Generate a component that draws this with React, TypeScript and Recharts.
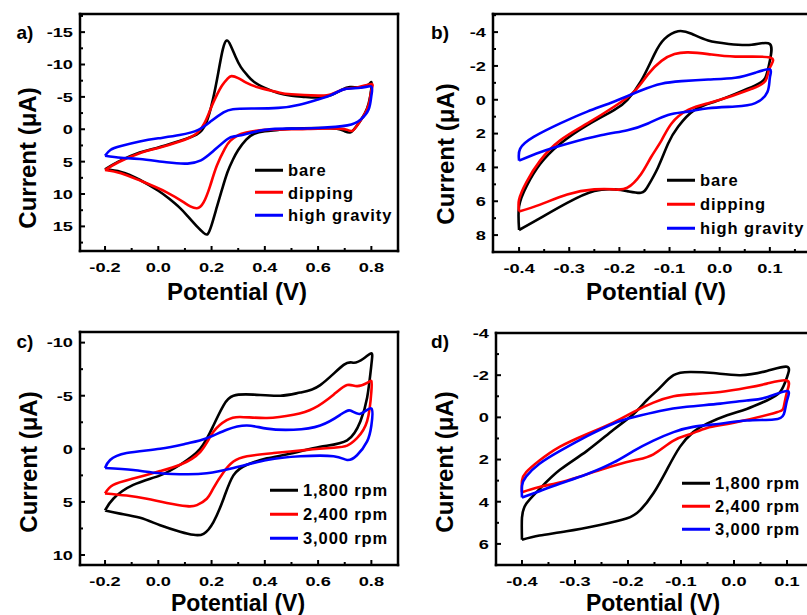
import React from 'react';
import { LineChart, Line, XAxis, YAxis } from 'recharts';

type Pt = [number, number];

// potential (V), current (µA): forward branch, then the return branch

// a) electrode preparation, wide window
const bareA: Pt[] = [
  [-0.2, 6.2], [-0.15, 5.0], [-0.07, 3.6], [0.0, 2.8], [0.08, 1.8], [0.145, 0.8], [0.18, -1.0], [0.205, -4.6],
  [0.225, -8.7], [0.242, -12.3], [0.257, -13.7], [0.272, -12.9], [0.29, -11.2], [0.31, -9.6], [0.335, -8.3],
  [0.36, -7.3], [0.4, -6.4], [0.45, -5.6], [0.5, -5.2], [0.55, -5.0], [0.6, -4.9], [0.65, -5.3], [0.69, -6.1],
  [0.72, -6.5], [0.76, -6.5], [0.79, -6.9], [0.8, -7.3],
  [0.8, -6.3], [0.79, -4.0], [0.775, -2.4], [0.755, -1.1], [0.735, 0.0], [0.72, 0.5], [0.7, 0.3], [0.67, -0.1],
  [0.6, -0.2], [0.5, -0.1], [0.45, 0.1], [0.4, 0.3], [0.36, 0.7], [0.33, 1.6], [0.3, 3.2], [0.28, 4.7],
  [0.26, 6.6], [0.24, 9.2], [0.22, 12.0], [0.2, 14.8], [0.185, 16.2], [0.17, 16.0], [0.145, 15.0], [0.11, 13.4],
  [0.08, 12.1], [0.04, 10.7], [0.0, 9.5], [-0.07, 7.8], [-0.14, 6.6], [-0.2, 6.2],
];
const dippingA: Pt[] = [
  [-0.2, 6.3], [-0.15, 5.1], [-0.07, 3.7], [0.0, 2.9], [0.08, 1.9], [0.145, 0.6], [0.18, -1.5], [0.2, -3.5],
  [0.22, -5.3], [0.24, -6.8], [0.26, -7.8], [0.275, -8.2], [0.3, -7.9], [0.33, -7.2], [0.38, -6.4], [0.45, -5.7],
  [0.5, -5.4], [0.6, -5.2], [0.65, -5.4], [0.7, -6.2], [0.75, -6.5], [0.8, -7.0],
  [0.8, -6.0], [0.79, -3.8], [0.77, -2.0], [0.75, -0.8], [0.73, 0.2], [0.71, 0.1], [0.68, -0.1], [0.6, -0.1],
  [0.5, 0.0], [0.4, 0.1], [0.33, 0.5], [0.3, 0.9], [0.27, 1.8], [0.25, 3.0], [0.22, 5.6], [0.195, 8.7],
  [0.17, 11.3], [0.145, 12.2], [0.12, 11.9], [0.1, 11.4], [0.03, 9.7], [-0.07, 7.9], [-0.14, 6.8], [-0.2, 6.3],
];
const gravityA: Pt[] = [
  [-0.2, 4.1], [-0.18, 3.2], [-0.14, 2.6], [-0.07, 1.9], [0.0, 1.4], [0.08, 0.9], [0.15, 0.1], [0.2, -1.3],
  [0.245, -2.6], [0.28, -3.1], [0.35, -3.2], [0.45, -3.3], [0.53, -3.8], [0.6, -4.6], [0.65, -5.3], [0.7, -6.2],
  [0.76, -6.4], [0.8, -6.6],
  [0.8, -5.2], [0.79, -3.1], [0.76, -1.5], [0.71, -0.6], [0.6, -0.2], [0.5, -0.1], [0.4, 0.1], [0.3, 1.0],
  [0.26, 1.5], [0.2, 3.6], [0.16, 4.8], [0.11, 5.3], [0.03, 5.1], [-0.07, 4.6], [-0.14, 4.4], [-0.2, 4.1],
];

// b) electrode preparation, narrow window
const bareB: Pt[] = [
  [-0.4, 7.7], [-0.4, 6.3], [-0.385, 5.1], [-0.358, 3.8], [-0.318, 2.6], [-0.264, 1.5], [-0.21, 0.6],
  [-0.184, 0.0], [-0.157, -1.1], [-0.13, -2.7], [-0.11, -3.6], [-0.083, -4.05], [-0.056, -3.9], [-0.023, -3.5],
  [0.018, -3.3], [0.064, -3.25], [0.1, -3.3],
  [0.1, -2.3], [0.091, -1.3], [0.071, -0.85], [0.031, -0.35], [-0.009, 0.1], [-0.05, 0.6], [-0.083, 1.6],
  [-0.103, 2.6], [-0.123, 4.0], [-0.143, 5.1], [-0.157, 5.5], [-0.184, 5.4], [-0.21, 5.3], [-0.25, 5.4],
  [-0.304, 6.1], [-0.358, 7.0], [-0.4, 7.7],
];
const dippingB: Pt[] = [
  [-0.4, 6.6], [-0.4, 5.9], [-0.385, 4.85], [-0.358, 3.6], [-0.318, 2.4], [-0.264, 1.4], [-0.21, 0.4],
  [-0.17, -0.5], [-0.143, -1.5], [-0.116, -2.3], [-0.09, -2.7], [-0.063, -2.8], [-0.023, -2.7], [0.031, -2.55],
  [0.1, -2.5],
  [0.1, -1.9], [0.091, -1.1], [0.064, -0.65], [0.018, -0.16], [-0.023, 0.2], [-0.063, 0.6], [-0.096, 1.4],
  [-0.116, 2.4], [-0.137, 3.4], [-0.157, 4.4], [-0.184, 5.2], [-0.21, 5.3], [-0.25, 5.3], [-0.304, 5.6],
  [-0.358, 6.2], [-0.4, 6.6],
];
const gravityB: Pt[] = [
  [-0.4, 3.6], [-0.398, 2.9], [-0.371, 2.2], [-0.318, 1.4], [-0.264, 0.7], [-0.21, 0.1], [-0.157, -0.55],
  [-0.116, -0.95], [-0.076, -1.1], [-0.023, -1.2], [0.031, -1.3], [0.071, -1.6], [0.1, -1.8],
  [0.1, -1.3], [0.095, -0.45], [0.071, 0.2], [0.031, 0.4], [-0.023, 0.5], [-0.063, 0.7], [-0.103, 0.9],
  [-0.143, 1.4], [-0.184, 1.8], [-0.237, 2.1], [-0.304, 2.6], [-0.358, 3.1], [-0.4, 3.6],
];

// c) rotation speed, wide window
const rpm1800C: Pt[] = [
  [-0.2, 5.8], [-0.169, 4.7], [-0.094, 3.4], [0.007, 2.5], [0.082, 1.5], [0.157, 0.0], [0.207, -2.2],
  [0.245, -4.1], [0.282, -5.0], [0.358, -5.1], [0.458, -5.0], [0.533, -5.3], [0.608, -6.0], [0.696, -7.9],
  [0.734, -8.1], [0.771, -8.5], [0.8, -9.0],
  [0.8, -7.9], [0.784, -4.8], [0.759, -2.6], [0.709, -0.8], [0.608, -0.2], [0.508, 0.4], [0.408, 0.9],
  [0.333, 1.5], [0.282, 2.5], [0.245, 4.7], [0.207, 6.9], [0.17, 8.0], [0.132, 8.1], [0.082, 7.8],
  [0.007, 7.2], [-0.068, 6.5], [-0.144, 6.1], [-0.2, 5.8],
];
const rpm2400C: Pt[] = [
  [-0.2, 4.2], [-0.169, 3.4], [-0.094, 2.8], [0.007, 2.1], [0.082, 1.5], [0.157, 0.3], [0.207, -1.6],
  [0.257, -2.7], [0.307, -3.0], [0.408, -2.9], [0.508, -3.2], [0.583, -3.8], [0.658, -5.1], [0.709, -6.0],
  [0.746, -5.9], [0.784, -6.2], [0.8, -6.4],
  [0.8, -5.4], [0.784, -2.6], [0.746, -1.0], [0.709, -0.3], [0.658, -0.1], [0.558, 0.1], [0.433, 0.4],
  [0.333, 0.7], [0.282, 1.2], [0.245, 2.2], [0.207, 3.7], [0.182, 4.7], [0.145, 5.3], [0.107, 5.4],
  [0.032, 5.1], [-0.043, 4.7], [-0.119, 4.4], [-0.2, 4.2],
];
const rpm3000C: Pt[] = [
  [-0.2, 1.8], [-0.181, 1.05], [-0.119, 0.4], [0.007, 0.0], [0.107, -0.5], [0.182, -1.0], [0.257, -1.8],
  [0.333, -2.2], [0.408, -1.9], [0.508, -1.8], [0.608, -2.2], [0.683, -3.2], [0.721, -3.6], [0.759, -3.3],
  [0.8, -3.8],
  [0.8, -2.2], [0.784, -0.7], [0.746, 0.6], [0.709, 1.05], [0.658, 0.7], [0.533, 0.7], [0.408, 1.05],
  [0.282, 1.8], [0.182, 2.3], [0.107, 2.4], [0.007, 2.3], [-0.094, 2.0], [-0.2, 1.8],
];

// d) rotation speed, narrow window
const rpm1800D: Pt[] = [
  [-0.4, 5.8], [-0.4, 4.75], [-0.392, 4.1], [-0.367, 3.4], [-0.329, 2.5], [-0.278, 1.6], [-0.228, 0.6],
  [-0.19, -0.15], [-0.165, -0.8], [-0.14, -1.4], [-0.114, -2.0], [-0.083, -2.15], [-0.039, -2.1], [0.012, -2.0],
  [0.062, -2.2], [0.1, -2.4],
  [0.1, -1.9], [0.087, -1.2], [0.062, -0.8], [0.024, -0.4], [-0.013, -0.1], [-0.051, 0.3], [-0.077, 0.7],
  [-0.102, 1.4], [-0.127, 2.5], [-0.152, 3.6], [-0.177, 4.4], [-0.203, 4.8], [-0.253, 5.1], [-0.316, 5.4],
  [-0.367, 5.6], [-0.4, 5.8],
];
const rpm2400D: Pt[] = [
  [-0.4, 3.55], [-0.4, 3.0], [-0.392, 2.6], [-0.367, 2.05], [-0.329, 1.4], [-0.278, 0.8], [-0.228, 0.25],
  [-0.19, -0.25], [-0.152, -0.7], [-0.114, -1.0], [-0.077, -1.1], [-0.026, -1.2], [0.024, -1.4], [0.062, -1.6],
  [0.1, -1.75],
  [0.1, -1.2], [0.094, -0.5], [0.075, -0.2], [0.0, 0.25], [-0.051, 0.5], [-0.083, 0.8], [-0.114, 1.1],
  [-0.152, 1.75], [-0.19, 2.05], [-0.253, 2.5], [-0.316, 3.0], [-0.367, 3.3], [-0.4, 3.55],
];
const rpm3000D: Pt[] = [
  [-0.4, 3.8], [-0.4, 3.25], [-0.392, 2.8], [-0.367, 2.2], [-0.329, 1.6], [-0.278, 0.9], [-0.228, 0.3],
  [-0.19, 0.0], [-0.14, -0.3], [-0.089, -0.5], [-0.026, -0.65], [0.024, -0.8], [0.062, -0.95], [0.1, -1.25],
  [0.1, -0.8], [0.094, -0.15], [0.075, 0.1], [0.024, 0.15], [-0.026, 0.3], [-0.077, 0.45], [-0.114, 0.7],
  [-0.152, 1.1], [-0.19, 1.6], [-0.228, 2.15], [-0.278, 2.7], [-0.329, 3.15], [-0.367, 3.5], [-0.4, 3.8],
];

// ticks (all marks) and the ones that carry a label
const xTicksWide = [-0.2, -0.1, 0, 0.1, 0.2, 0.3, 0.4, 0.5, 0.6, 0.7, 0.8];
const xLabelsWide = [-0.2, 0, 0.2, 0.4, 0.6, 0.8];
const xTicksNarrow = [-0.4, -0.35, -0.3, -0.25, -0.2, -0.15, -0.1, -0.05, 0, 0.05, 0.1, 0.15];
const xLabelsNarrow = [-0.4, -0.3, -0.2, -0.1, 0, 0.1];
const yTicksA = [-17.5, -15, -12.5, -10, -7.5, -5, -2.5, 0, 2.5, 5, 7.5, 10, 12.5, 15, 17.5];
const yLabelsA = [-15, -10, -5, 0, 5, 10, 15];
const yTicksB = [-5, -4, -3, -2, -1, 0, 1, 2, 3, 4, 5, 6, 7, 8];
const yLabelsB = [-4, -2, 0, 2, 4, 6, 8];
const yTicksC = [-10, -7.5, -5, -2.5, 0, 2.5, 5, 7.5, 10];
const yLabelsC = [-10, -5, 0, 5, 10];
const yTicksD = [-4, -3, -2, -1, 0, 1, 2, 3, 4, 5, 6, 7];
const yLabelsD = [-4, -2, 0, 2, 4, 6];

const prepNames = ['bare', 'dipping', 'high gravity'];
const rpmNames = ['1,800 rpm', '2,400 rpm', '3,000 rpm'];
const COLORS = ['#000000', '#ff0000', '#0000ff'];
const FONT = '"Liberation Sans", Arial, Helvetica, sans-serif';
// tick numbers in the figure are set wide, so they get stretched sideways
const tickText = { fontFamily: FONT, fontWeight: 700, fontSize: 13.5, fill: '#000' };
const STRETCH = 1.35;

const has = (list: number[], v: number) => list.some((l) => Math.abs(l - v) < 1e-6);

function XTick(props: any) {
  const { x, y, payload, labels } = props;
  const major = has(labels, payload.value);
  return (
    <g>
      <line x1={x} y1={y} x2={x} y2={y - (major ? 5 : 3)} stroke="#000" strokeWidth={2} />
      {major && (
        <text transform={`translate(${x},${y + 20.5}) scale(${STRETCH},1)`} textAnchor="middle" style={tickText}>
          {payload.value.toFixed(1)}
        </text>
      )}
    </g>
  );
}

function YTick(props: any) {
  const { x, y, payload, labels } = props;
  const major = has(labels, payload.value);
  return (
    <g>
      <line x1={x} y1={y} x2={x + (major ? 5 : 3)} y2={y} stroke="#000" strokeWidth={2} />
      {major && (
        <text transform={`translate(${x - 7},${y}) scale(${STRETCH},1)`} dy="0.36em" textAnchor="end" style={tickText}>
          {String(payload.value)}
        </text>
      )}
    </g>
  );
}

interface PanelProps {
  left: number;
  top: number;
  width: number;
  height: number;
  // plot box edges inside this chart
  box: { top: number; right: number; bottom: number; left: number };
  xDomain: [number, number];
  yDomain: [number, number];
  xTicks: number[];
  xLabels: number[];
  yTicks: number[];
  yLabels: number[];
  series: Pt[][];
  names: string[];
}

const frame = { stroke: '#000', strokeWidth: 2.5, strokeLinecap: 'square' as const };

function Panel(p: PanelProps) {
  const b = p.box;
  return (
    <div style={{ position: 'absolute', left: p.left, top: p.top }}>
      <LineChart width={p.width} height={p.height} margin={{ top: b.top - 4, right: b.right - 4, bottom: b.bottom - 30, left: b.left - 50 }}>
        <XAxis
          dataKey="x"
          type="number"
          domain={p.xDomain}
          allowDataOverflow
          ticks={p.xTicks}
          interval={0}
          height={30}
          tickSize={0}
          tickMargin={0}
          tickLine={false}
          axisLine={frame}
          tick={(t: any) => <XTick {...t} labels={p.xLabels} />}
        />
        <XAxis xAxisId="top" orientation="top" dataKey="x" type="number" domain={p.xDomain} allowDataOverflow height={4} tick={false} tickLine={false} axisLine={frame} />
        <YAxis
          dataKey="y"
          type="number"
          domain={p.yDomain}
          allowDataOverflow
          reversed
          ticks={p.yTicks}
          interval={0}
          width={50}
          tickSize={0}
          tickMargin={0}
          tickLine={false}
          axisLine={frame}
          tick={(t: any) => <YTick {...t} labels={p.yLabels} />}
        />
        <YAxis yAxisId="right" orientation="right" dataKey="y" type="number" domain={p.yDomain} allowDataOverflow width={4} tick={false} tickLine={false} axisLine={frame} />
        {p.series.map((pts, i) => (
          <Line
            key={p.names[i]}
            name={p.names[i]}
            data={pts.map(([x, y]) => ({ x, y }))}
            dataKey="y"
            type="natural"
            stroke={COLORS[i]}
            strokeWidth={2.6}
            dot={false}
            activeDot={false}
            isAnimationActive={false}
          />
        ))}
      </LineChart>
    </div>
  );
}

function Legend({ left, top, gap, names }: { left: number; top: number; gap: number; names: string[] }) {
  return (
    <>
      {names.map((n, i) => (
        <div
          key={n}
          style={{
            position: 'absolute',
            left,
            top: top + i * gap,
            transform: 'translateY(-50%)',
            display: 'flex',
            alignItems: 'center',
            whiteSpace: 'nowrap',
          }}
        >
          <div style={{ width: 28, height: 3, background: COLORS[i], marginRight: 5 }} />
          <span style={{ fontSize: 16.5, fontWeight: 'bold', letterSpacing: 0.9, lineHeight: 1 }}>{n}</span>
        </div>
      ))}
    </>
  );
}

function Text({ x, y, size, rotate, children }: { x: number; y: number; size: number; rotate?: boolean; children: React.ReactNode }) {
  return (
    <div
      style={{
        position: 'absolute',
        left: x,
        top: y,
        transform: `translate(-50%, -50%)${rotate ? ' rotate(-90deg)' : ''}`,
        fontSize: size,
        fontWeight: 'bold',
        lineHeight: 1,
        whiteSpace: 'nowrap',
      }}
    >
      {children}
    </div>
  );
}

export default function App() {
  return (
    <div style={{ position: 'absolute', left: 0, top: 0, width: 807, height: 615, overflow: 'hidden', background: '#fff', fontFamily: FONT, color: '#000' }}>
      <Panel
        left={0} top={0} width={410} height={305}
        box={{ top: 14, right: 12, bottom: 54, left: 80 }}
        xDomain={[-0.294, 0.9]} yDomain={[-17.8, 18.8]}
        xTicks={xTicksWide} xLabels={xLabelsWide} yTicks={yTicksA} yLabels={yLabelsA}
        series={[bareA, dippingA, gravityA]} names={prepNames}
      />
      <Panel
        left={410} top={0} width={420} height={305}
        box={{ top: 14, right: 10, bottom: 53, left: 83 }}
        xDomain={[-0.452, 0.2]} yDomain={[-5.07, 9.0]}
        xTicks={xTicksNarrow} xLabels={xLabelsNarrow} yTicks={yTicksB} yLabels={yLabelsB}
        series={[bareB, dippingB, gravityB]} names={prepNames}
      />
      <Panel
        left={0} top={305} width={410} height={310}
        box={{ top: 27, right: 12, bottom: 50, left: 80 }}
        xDomain={[-0.294, 0.9]} yDomain={[-11, 10.94]}
        xTicks={xTicksWide} xLabels={xLabelsWide} yTicks={yTicksC} yLabels={yLabelsC}
        series={[rpm1800C, rpm2400C, rpm3000C]} names={rpmNames}
      />
      <Panel
        left={410} top={305} width={440} height={310}
        box={{ top: 28, right: 10, bottom: 50, left: 86 }}
        xDomain={[-0.449, 0.2]} yDomain={[-4, 7.0]}
        xTicks={xTicksNarrow} xLabels={xLabelsNarrow} yTicks={yTicksD} yLabels={yLabelsD}
        series={[rpm1800D, rpm2400D, rpm3000D]} names={rpmNames}
      />

      <Legend left={255} top={170} gap={22.5} names={prepNames} />
      <Legend left={667} top={180} gap={24} names={prepNames} />
      <Legend left={270} top={490} gap={24} names={rpmNames} />
      <Legend left={682} top={483} gap={23} names={rpmNames} />

      <Text x={25} y={32} size={19}>a)</Text>
      <Text x={440} y={32} size={19}>b)</Text>
      <Text x={25} y={341} size={19}>c)</Text>
      <Text x={440} y={341} size={19}>d)</Text>

      <Text x={237} y={292} size={24}>Potential (V)</Text>
      <Text x={656} y={292} size={24}>Potential (V)</Text>
      <Text x={238} y={602.5} size={23}>Potential (V)</Text>
      <Text x={653} y={602.5} size={23}>Potential (V)</Text>

      <Text x={28} y={158} size={24} rotate>Current (μA)</Text>
      <Text x={446} y={154} size={24} rotate>Current (μA)</Text>
      <Text x={29} y={462} size={24} rotate>Current (μA)</Text>
      <Text x={445} y={462} size={24} rotate>Current (μA)</Text>
    </div>
  );
}
